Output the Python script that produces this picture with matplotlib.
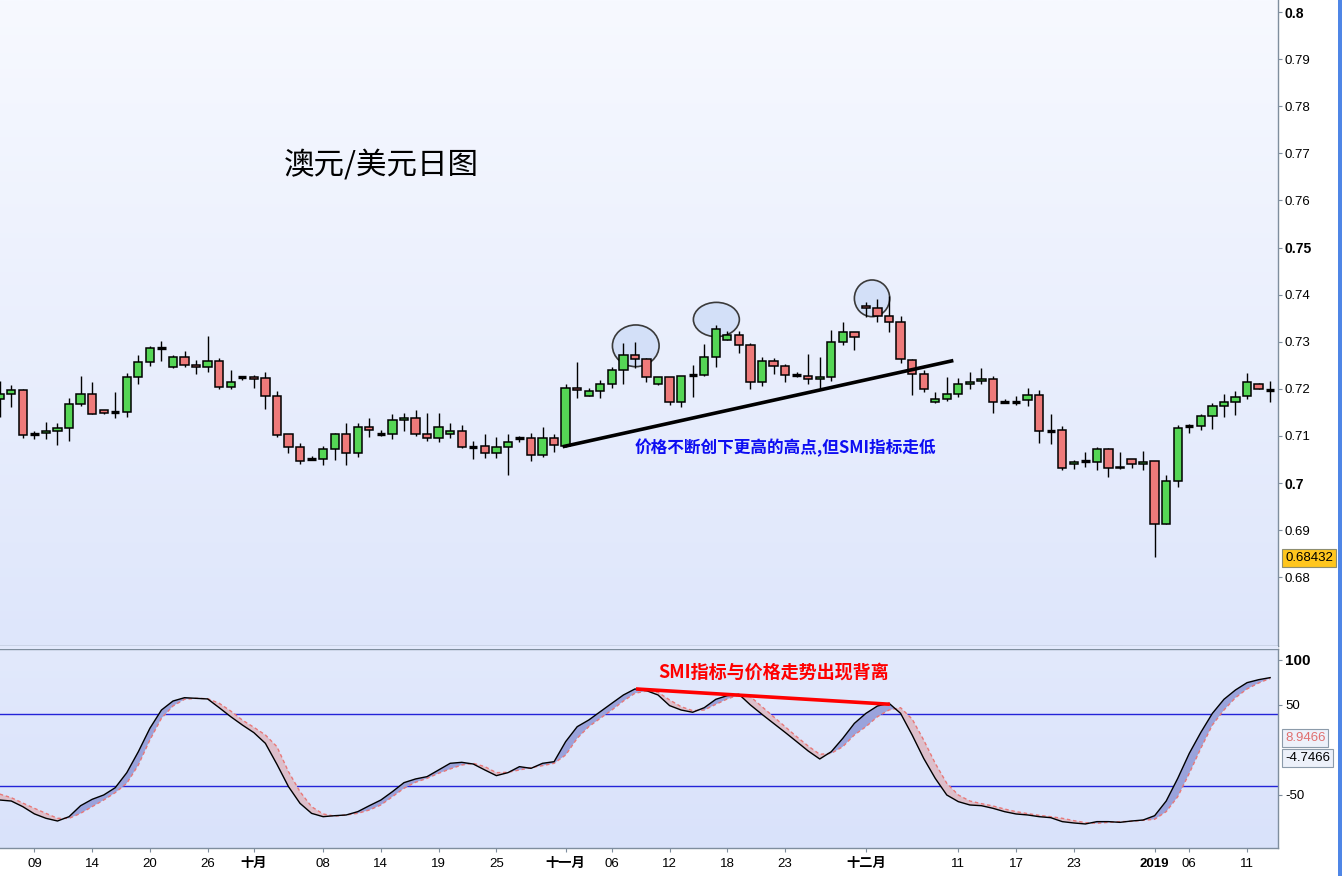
import matplotlib
matplotlib.use('Agg')
import matplotlib.pyplot as plt
import numpy as np
from matplotlib.patches import Rectangle, Ellipse
from matplotlib.colors import LinearSegmentedColormap

plt.rcParams['font.family'] = ['Liberation Sans', 'Noto Sans CJK SC', 'DejaVu Sans']

# ---------------- data ----------------
opens = [.7178, .7190, .7197, .7104, .7106, .7110, .7116, .7167, .7188, .7154,
         .7149, .7150, .7224, .7256, .7286, .7246, .7267, .7250, .7246, .7258,
         .7203, .7226, .7226, .7222, .7184, .7103, .7076, .7051, .7050, .7072,
         .7103, .7063, .7118, .7103, .7103, .7133, .7137, .7103, .7095, .7103,
         .7110, .7077, .7078, .7063, .7076, .7095, .7095, .7059, .7095, .7078,
         .7201, .7184, .7195, .7210, .7239, .7271, .7263, .7210, .7224, .7171,
         .7229, .7229, .7268, .7304, .7314, .7292, .7214, .7258, .7248, .7230,
         .7228, .7220, .7224, .7299, .7320, .7375, .7371, .7354, .7341, .7261,
         .7231, .7173, .7178, .7188, .7210, .7216, .7220, .7171, .7172, .7176,
         .7186, .7111, .7112, .7040, .7046, .7044, .7072, .7031, .7050, .7040,
         .7046, .6914, .7004, .7121, .7120, .7142, .7163, .7171, .7184, .7210,
         .7198]
highs = [.7217, .7208, .7199, .7110, .7129, .7127, .7180, .7227, .7214, .7155,
         .7193, .7234, .7272, .7291, .7302, .7272, .7280, .7261, .7312, .7265,
         .7239, .7227, .7229, .7236, .7195, .7104, .7084, .7057, .7078, .7106,
         .7127, .7127, .7137, .7112, .7146, .7148, .7156, .7148, .7148, .7127,
         .7123, .7089, .7103, .7097, .7103, .7099, .7106, .7118, .7103, .7210,
         .7256, .7201, .7219, .7246, .7297, .7299, .7266, .7225, .7226, .7228,
         .7250, .7295, .7335, .7323, .7323, .7297, .7267, .7265, .7252, .7236,
         .7273, .7267, .7324, .7341, .7321, .7384, .7390, .7396, .7354, .7263,
         .7240, .7193, .7224, .7222, .7235, .7244, .7227, .7178, .7184, .7201,
         .7197, .7146, .7120, .7049, .7066, .7076, .7075, .7066, .7051, .7069,
         .7046, .7017, .7123, .7125, .7146, .7169, .7190, .7195, .7234, .7212,
         .7216]
lows = [.7141, .7162, .7095, .7094, .7094, .7081, .7090, .7164, .7146, .7147,
        .7139, .7141, .7210, .7249, .7259, .7245, .7247, .7232, .7236, .7199,
        .7199, .7219, .7202, .7158, .7097, .7063, .7040, .7048, .7038, .7049,
        .7039, .7056, .7098, .7100, .7094, .7110, .7100, .7089, .7086, .7095,
        .7074, .7052, .7054, .7054, .7018, .7087, .7047, .7055, .7065, .7076,
        .7180, .7184, .7180, .7201, .7210, .7244, .7215, .7209, .7166, .7161,
        .7183, .7227, .7247, .7303, .7275, .7199, .7207, .7231, .7214, .7224,
        .7210, .7199, .7217, .7292, .7282, .7352, .7341, .7321, .7254, .7187,
        .7194, .7170, .7175, .7182, .7199, .7210, .7148, .7169, .7165, .7163,
        .7084, .7082, .7027, .7030, .7035, .7028, .7013, .7029, .7032, .7028,
        .6843, .6913, .6991, .7106, .7112, .7114, .7140, .7144, .7179, .7199,
        .7173]
closes = [.7190, .7197, .7101, .7105, .7110, .7116, .7167, .7188, .7146, .7148,
          .7150, .7224, .7256, .7286, .7286, .7267, .7250, .7246, .7258, .7203,
          .7214, .7226, .7220, .7184, .7101, .7076, .7046, .7052, .7072, .7103,
          .7063, .7118, .7112, .7104, .7133, .7137, .7103, .7095, .7118, .7110,
          .7076, .7077, .7063, .7076, .7086, .7095, .7059, .7095, .7080, .7201,
          .7197, .7195, .7210, .7239, .7271, .7263, .7224, .7224, .7171, .7228,
          .7230, .7268, .7328, .7314, .7292, .7214, .7258, .7248, .7229, .7230,
          .7220, .7224, .7299, .7320, .7309, .7371, .7355, .7341, .7263, .7231,
          .7199, .7178, .7188, .7210, .7214, .7220, .7173, .7171, .7172, .7186,
          .7110, .7111, .7031, .7045, .7046, .7072, .7031, .7035, .7040, .7044,
          .6914, .7004, .7116, .7121, .7142, .7163, .7171, .7183, .7214, .7199,
          .7198]

smi = [-55.6, -56.7, -63.0, -71.0, -75.9, -78.9, -74.1, -61.9, -54.8, -50.0,
       -41.9, -25.2, -1.9, 24.1, 44.4, 54.4, 58.1, 57.4, 56.7, 47.0,
       37.0, 27.8, 19.3, 7.4, -15.9, -40.7, -59.3, -70.4, -74.1, -73.0,
       -72.2, -68.5, -61.9, -55.6, -46.3, -36.3, -32.2, -29.6, -22.2, -14.8,
       -13.7, -15.6, -22.2, -28.5, -25.2, -18.5, -20.4, -14.8, -13.0, 9.3,
       25.9, 33.3, 42.6, 51.9, 61.1, 67.8, 65.9, 61.1, 49.3, 44.4,
       41.9, 47.0, 56.3, 60.4, 61.9, 50.0, 39.6, 29.6, 19.6, 9.3,
       -1.1, -10.0, -1.9, 13.0, 29.6, 40.7, 48.9, 51.9, 40.7, 16.7,
       -9.3, -31.5, -50.0, -57.4, -61.1, -61.9, -64.8, -68.5, -71.1, -72.2,
       -74.1, -75.2, -79.6, -81.1, -82.2, -79.6, -79.6, -80.4, -78.9, -77.8,
       -73.0, -56.7, -31.5, -3.7, 19.6, 40.7, 56.3, 66.7, 74.8, 78.1,
       80.4]
signal = [-49.0, -53.0, -59.0, -64.8, -70.4, -75.9, -76.0, -70.4, -63.0, -55.6,
          -47.4, -37.0, -16.7, 11.1, 35.2, 48.9, 56.3, 57.4, 57.0, 51.9,
          43.3, 33.3, 25.2, 16.7, 3.7, -24.1, -46.3, -63.0, -71.1, -73.5,
          -72.2, -70.4, -66.7, -61.1, -51.9, -42.6, -35.9, -31.5, -25.9, -21.1,
          -16.7, -14.8, -18.5, -25.2, -24.8, -22.2, -19.6, -17.4, -14.8, -5.6,
          13.0, 25.9, 35.2, 44.4, 54.4, 63.0, 65.5, 64.1, 55.6, 48.1,
          43.7, 44.4, 50.7, 56.7, 61.1, 59.3, 48.1, 37.0, 25.9, 14.8,
          4.4, -4.8, -3.7, 3.7, 16.7, 25.9, 37.0, 44.4, 47.0, 34.4,
          11.1, -14.8, -37.0, -50.0, -56.7, -59.6, -62.2, -65.6, -68.5, -70.7,
          -72.6, -74.1, -75.9, -78.5, -80.7, -81.5, -80.4, -79.6, -79.3, -78.1,
          -77.0, -68.5, -51.9, -25.9, 1.9, 27.8, 44.4, 58.1, 67.8, 74.4,
          79.6]

tick_pos = [3, 8, 13, 18, 22, 28, 33, 38, 43, 49, 53, 58, 63, 68, 75, 83, 88, 93, 100, 103, 108]
tick_labels = ['09', '14', '20', '26', '十月', '08', '14', '19', '25', '十一月', '06',
               '12', '18', '23', '十二月', '11', '17', '23', '2019', '06', '11']
bold_labels = ['十月', '十一月', '十二月', '2019']

price_ticks = [0.68, 0.69, 0.70, 0.71, 0.72, 0.73, 0.74, 0.75, 0.76, 0.77, 0.78, 0.79, 0.80]
price_labels = ['0.68', '0.69', '0.7', '0.71', '0.72', '0.73', '0.74', '0.75', '0.76',
                '0.77', '0.78', '0.79', '0.8']
price_bold = ['0.7', '0.75', '0.8']
smi_ticks = [-50, 50, 100]
smi_labels = ['-50', '50', '100']

trend_x = [48.74, 82.57]
trend_y = [0.7077, 0.7260]
div_x = [55.09, 77.08]
div_y = [67.8, 50.8]
circle_idx = [55.07, 62.05, 75.53]
circle_price = [0.72913, 0.73471, 0.73921]

title_text = '澳元/美元日图'
note_text = '价格不断创下更高的高点,但SMI指标走低'
div_text = 'SMI指标与价格走势出现背离'
last_price_label = '0.68432'
sig_label = '8.9466'
smi_label = '-4.7466'

# ---------------- layout ----------------
W, H = 1342, 876
fig = plt.figure(figsize=(W / 100, H / 100), dpi=100)
fig.patch.set_facecolor('white')


def fx(px):
    return px / W


def fy(py):
    return 1 - py / H


ax = fig.add_axes([0, fy(646), fx(1278), 646 / H])
ax2 = fig.add_axes([0, fy(848), fx(1278), 199 / H])

xlim = (0.0216, 110.68)
spine_c = '#7F8E9E'

# backgrounds
grad = np.linspace(0, 1, 256).reshape(-1, 1)
cm_main = LinearSegmentedColormap.from_list('m', ['#F7F9FF', '#DEE6FB'])
cm_low = LinearSegmentedColormap.from_list('l', ['#E2E9FC', '#D9E2FA'])
ax.imshow(grad, extent=[0, 1, 0, 1], transform=ax.transAxes, aspect='auto',
          cmap=cm_main, origin='upper', zorder=0)
ax2.imshow(grad, extent=[0, 1, 0, 1], transform=ax2.transAxes, aspect='auto',
           cmap=cm_low, origin='upper', zorder=0)

# ---------------- candles ----------------
x = np.arange(len(opens))
o = np.array(opens)
h = np.array(highs)
l = np.array(lows)
c = np.array(closes)
doji = np.abs(c - o) <= 0.00011
up = (c > o) & ~doji
dn = (c < o) & ~doji

ax.vlines(x, l, h, color='black', lw=1.0, zorder=3)
bw = 0.72
ax.bar(x[up], (c - o)[up], bottom=o[up], width=bw, color='#55D655',
       edgecolor='black', linewidth=1.1, zorder=4)
ax.bar(x[dn], (o - c)[dn], bottom=c[dn], width=bw, color='#EE7A7A',
       edgecolor='black', linewidth=1.1, zorder=4)
ax.hlines(c[doji], x[doji] - bw / 2, x[doji] + bw / 2, color='black', lw=2.4, zorder=5)

# trend line
ax.plot(trend_x, trend_y, color='black', lw=2.6, zorder=6, solid_capstyle='butt')

# circles
circle_w = [4.04, 3.98, 3.06]
circle_h = [0.00885, 0.00728, 0.00779]
for cx, cy, w, hh in zip(circle_idx, circle_price, circle_w, circle_h):
    ax.add_patch(Ellipse((cx, cy), w, hh, facecolor=(0.80, 0.86, 0.97, 0.75),
                         edgecolor='#3A3A3A', lw=1.2, zorder=2))

ax.set_xlim(*xlim)
ax.set_ylim(0.665393, 0.802548)
ax.set_xticks([])
ax.yaxis.tick_right()
ax.set_yticks(price_ticks)
ax.set_yticklabels(price_labels)
ax.tick_params(axis='y', direction='out', length=3, width=0.8, color=spine_c,
               pad=2, labelsize=9.5)
for t in ax.get_yticklabels():
    if t.get_text() in price_bold:
        t.set_fontweight('bold')
        t.set_fontsize(10)
for s in ['top', 'left']:
    ax.spines[s].set_visible(False)
for s in ['right', 'bottom']:
    ax.spines[s].set_color(spine_c)
    ax.spines[s].set_linewidth(1.0)

# ---------------- SMI panel ----------------
xs = np.arange(len(smi))
sm = np.array(smi)
sg = np.array(signal)
ax2.axhline(40, color='#2323D8', lw=1.0, zorder=1)
ax2.axhline(-40, color='#2323D8', lw=1.0, zorder=1)
ax2.fill_between(xs, sm, sg, where=sm >= sg, interpolate=True, color='#9AA3DC',
                 lw=0, zorder=2)
ax2.fill_between(xs, sm, sg, where=sm < sg, interpolate=True, color='#DDBFCB',
                 lw=0, zorder=2)
ax2.plot(xs, sg, color='#E87878', lw=1.0, ls=(0, (2.5, 2)), zorder=3)
ax2.plot(xs, sm, color='black', lw=1.0, zorder=4)
ax2.plot(div_x, div_y, color='#FF0000', lw=2.6, zorder=5, solid_capstyle='butt')

ax2.set_xlim(*xlim)
ax2.set_ylim(-108.9, 112.2)
ax2.yaxis.tick_right()
ax2.set_yticks(smi_ticks)
ax2.set_yticklabels(smi_labels)
ax2.tick_params(axis='y', direction='out', length=3, width=0.8, color=spine_c,
                pad=2, labelsize=9.5)
for t in ax2.get_yticklabels():
    if t.get_text() == '100':
        t.set_fontweight('bold')
        t.set_fontsize(11)
ax2.set_xticks(tick_pos)
ax2.set_xticklabels(tick_labels)
ax2.tick_params(axis='x', direction='out', length=3, width=0.8, color=spine_c,
                pad=4, labelsize=9.5)
for t in ax2.get_xticklabels():
    if t.get_text() in bold_labels:
        t.set_fontweight('bold')
ax2.spines['left'].set_visible(False)
for s in ['top', 'right', 'bottom']:
    ax2.spines[s].set_color(spine_c)
    ax2.spines[s].set_linewidth(1.0)

# gap between panels and right blue bar
fig.patches.append(Rectangle((0, fy(649)), fx(1278), 3 / H, transform=fig.transFigure,
                             facecolor='#E2E9FC', edgecolor='none', zorder=0))
fig.patches.append(Rectangle((fx(1338), 0), 4 / W, 1, transform=fig.transFigure,
                             facecolor='#4F86E6', edgecolor='none', zorder=0))

# ---------------- texts ----------------
cjk = ['Noto Sans CJK SC', 'DejaVu Sans']
fig.text(fx(381), fy(165), title_text, fontsize=22, ha='center', va='center',
         family=cjk, color='black')
fig.text(fx(785), fy(447.5), note_text, fontsize=12, ha='center', va='center',
         family=cjk, weight='bold', color='#0D0DF2')
fig.text(fx(774), fy(672.5), div_text, fontsize=13, ha='center', va='center',
         family=cjk, weight='bold', color='#FF0000')

fig.text(fx(1285), fy(558), last_price_label, fontsize=9.5, ha='left', va='center',
         color='black', bbox=dict(boxstyle='square,pad=0.2', fc='#FFC61E',
                                  ec='#8E8E70', lw=0.8))
fig.text(fx(1285), fy(738), sig_label, fontsize=9.5, ha='left', va='center',
         color='#E07070', bbox=dict(boxstyle='square,pad=0.2', fc='#EDF1FA',
                                    ec='#8C9BAA', lw=0.8))
fig.text(fx(1285), fy(758), smi_label, fontsize=9.5, ha='left', va='center',
         color='black', bbox=dict(boxstyle='square,pad=0.2', fc='#EDF1FA',
                                  ec='#8C9BAA', lw=0.8))

fig.savefig('out.png', dpi=100, facecolor='white')
